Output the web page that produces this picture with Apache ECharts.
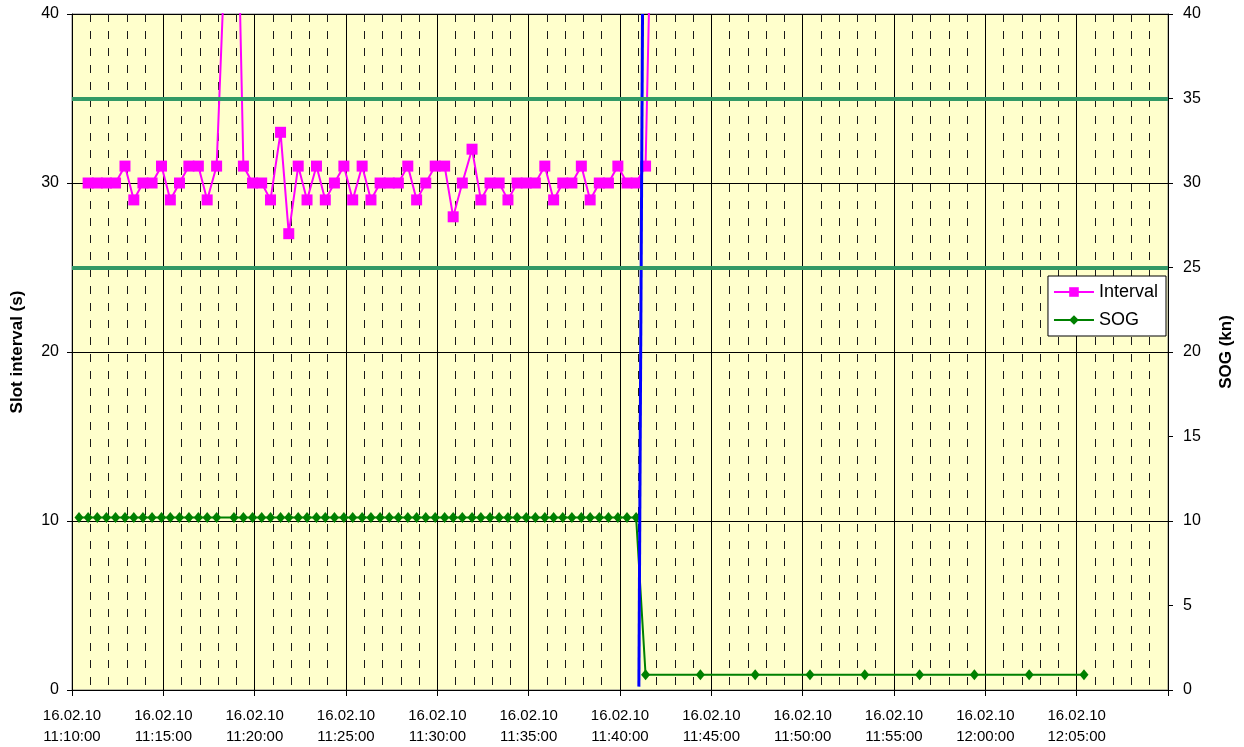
<!DOCTYPE html>
<html>
<head>
<meta charset="utf-8">
<title>Slot interval / SOG</title>
<script src="https://cdn.jsdelivr.net/npm/echarts@6/dist/echarts.min.js"></script>
<style>
  html, body { margin: 0; padding: 0; background: #fff; }
  #chart { width: 1244px; height: 747px; }
</style>
</head>
<body>
<div id="chart"></div>
<script>
// times are seconds after 16.02.10 11:10:00
var dateLabel = '16.02.10'
var timeLabels = ['11:10:00', '11:15:00', '11:20:00', '11:25:00', '11:30:00', '11:35:00',
  '11:40:00', '11:45:00', '11:50:00', '11:55:00', '12:00:00', '12:05:00']

var intervalTimes = [53, 83, 113, 143, 174, 203, 233, 263, 294, 323,
  353, 384, 415, 444, 475, 532, 563, 593, 623, 652,
  685, 712, 743, 772, 803, 832, 862, 893, 922, 953,
  982, 1012, 1042, 1072, 1103, 1132, 1162, 1193, 1224, 1252,
  1282, 1314, 1343, 1373, 1403, 1432, 1462, 1492, 1522, 1553,
  1582, 1612, 1642, 1673, 1702, 1732, 1762, 1793, 1823, 1853,
  1884, 2064, 2244, 2424, 2604, 2784, 2964, 3144, 3324]
var intervalValues = [30, 30, 30, 30, 31, 29, 30, 30, 31, 29,
  30, 31, 31, 29, 31, 57, 31, 30, 30, 29,
  33, 27, 31, 29, 31, 29, 30, 31, 29, 31,
  29, 30, 30, 30, 31, 29, 30, 31, 31, 28,
  30, 32, 29, 30, 30, 29, 30, 30, 30, 31,
  29, 30, 30, 31, 29, 30, 30, 31, 30, 30,
  31, 180, 180, 180, 180, 180, 180, 180, 180]

var sogTimes = [23, 53, 83, 113, 143, 174, 203, 233, 263, 294, 323,
  353, 384, 415, 444, 475, 532, 563, 593, 623, 652,
  685, 712, 743, 772, 803, 832, 862, 893, 922, 953,
  982, 1012, 1042, 1072, 1103, 1132, 1162, 1193, 1224, 1252,
  1282, 1314, 1343, 1373, 1403, 1432, 1462, 1492, 1522, 1553,
  1582, 1612, 1642, 1673, 1702, 1732, 1762, 1793, 1823, 1853,
  1884, 2064, 2244, 2424, 2604, 2784, 2964, 3144, 3324]
var sogValues = [10.2, 10.2, 10.2, 10.2, 10.2, 10.2, 10.2, 10.2, 10.2, 10.2, 10.2,
  10.2, 10.2, 10.2, 10.2, 10.2, 10.2, 10.2, 10.2, 10.2, 10.2,
  10.2, 10.2, 10.2, 10.2, 10.2, 10.2, 10.2, 10.2, 10.2, 10.2,
  10.2, 10.2, 10.2, 10.2, 10.2, 10.2, 10.2, 10.2, 10.2, 10.2,
  10.2, 10.2, 10.2, 10.2, 10.2, 10.2, 10.2, 10.2, 10.2, 10.2,
  10.2, 10.2, 10.2, 10.2, 10.2, 10.2, 10.2, 10.2, 10.2, 10.2,
  0.9, 0.9, 0.9, 0.9, 0.9, 0.9, 0.9, 0.9, 0.9]

var limitLevels = [25, 35]
var markerTimes = [1862, 1874]
var markerLevels = [0.2, 40]

function pairs(xs, ys) {
  return xs.map(function(x, i) { return [x, ys[i]] })
}

var chart = echarts.init(document.getElementById('chart'))
chart.setOption({
  animation: false,
  textStyle: { fontFamily: 'Liberation Sans, Arial, sans-serif' },
  grid: {
    left: 72, right: 76, top: 14, bottom: 56,
    show: true,
    backgroundColor: '#FFFFCC',
    borderColor: '#808080',
    borderWidth: 1
  },
  legend: {
    data: ['Interval', 'SOG'],
    orient: 'vertical',
    right: 78,
    top: 276,
    backgroundColor: '#fff',
    borderColor: '#000',
    borderWidth: 1,
    borderRadius: 0,
    padding: [7, 8, 7, 5],
    itemWidth: 40,
    itemHeight: 12,
    itemGap: 10,
    textStyle: { fontSize: 18, color: '#000' }
  },
  xAxis: {
    type: 'value',
    min: 0,
    max: 3600,
    interval: 300,
    axisLine: { show: true, lineStyle: { color: '#000' } },
    axisTick: { show: true, length: 6, lineStyle: { color: '#000' } },
    axisLabel: {
      color: '#000',
      fontSize: 15,
      lineHeight: 21,
      margin: 15,
      formatter: function(v) {
        var t = timeLabels[Math.round(v / 300)]
        return t ? dateLabel + '\n' + t : ''
      }
    },
    splitLine: { show: true, lineStyle: { color: '#000', width: 1 } },
    minorTick: { show: false, splitNumber: 5 },
    minorSplitLine: { show: true, lineStyle: { color: '#1a1a1a', width: 1, type: [8, 9] } }
  },
  yAxis: [
    {
      type: 'value',
      position: 'left',
      min: 0,
      max: 40,
      interval: 10,
      name: 'Slot interval (s)',
      nameLocation: 'middle',
      nameRotate: 90,
      nameGap: 46,
      nameTextStyle: { color: '#000', fontSize: 17, fontWeight: 'bold' },
      axisLine: { show: true, lineStyle: { color: '#000' } },
      axisTick: { show: true, length: 5, lineStyle: { color: '#000' } },
      axisLabel: { color: '#000', fontSize: 16, margin: 13 },
      splitLine: { show: true, lineStyle: { color: '#000', width: 1 } }
    },
    {
      type: 'value',
      position: 'right',
      min: 0,
      max: 40,
      interval: 5,
      name: 'SOG (kn)',
      nameLocation: 'middle',
      nameRotate: 90,
      nameGap: 50,
      nameTextStyle: { color: '#000', fontSize: 17, fontWeight: 'bold' },
      axisLine: { show: true, lineStyle: { color: '#000' } },
      axisTick: { show: true, length: 5, lineStyle: { color: '#000' } },
      axisLabel: { color: '#000', fontSize: 16, margin: 15 },
      splitLine: { show: false }
    }
  ],
  series: [
    {
      name: 'limits',
      type: 'line',
      data: [],
      silent: true,
      z: 1,
      markLine: {
        silent: true,
        symbol: 'none',
        label: { show: false },
        lineStyle: { color: '#339966', width: 4, type: 'solid' },
        data: limitLevels.map(function(l) { return { yAxis: l } })
      }
    },
    {
      name: 'Interval',
      type: 'line',
      yAxisIndex: 0,
      data: pairs(intervalTimes, intervalValues),
      symbol: 'rect',
      symbolSize: 11,
      color: '#FF00FF',
      lineStyle: { color: '#FF00FF', width: 2 },
      itemStyle: { color: '#FF00FF' },
      z: 3
    },
    {
      name: 'SOG',
      type: 'line',
      yAxisIndex: 1,
      data: pairs(sogTimes, sogValues),
      symbol: 'diamond',
      symbolSize: [9, 11],
      color: '#008000',
      lineStyle: { color: '#008000', width: 2 },
      itemStyle: { color: '#008000' },
      z: 3
    },
    {
      name: 'marker',
      type: 'line',
      yAxisIndex: 0,
      data: pairs(markerTimes, markerLevels),
      symbol: 'none',
      lineStyle: { color: '#0000FF', width: 3 },
      z: 4
    }
  ]
})
</script>
</body>
</html>
